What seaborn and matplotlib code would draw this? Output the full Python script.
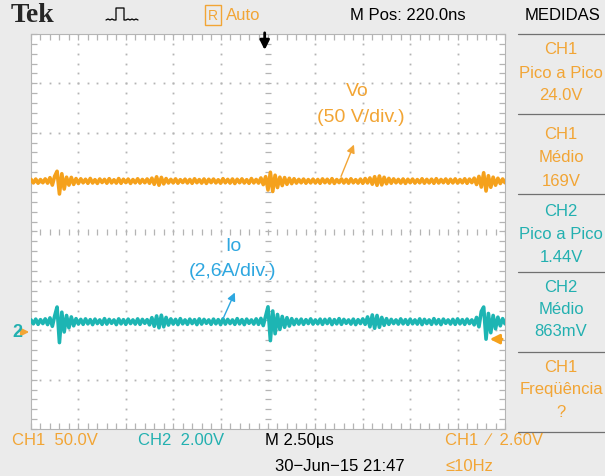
import numpy as np
import pandas as pd
import matplotlib
matplotlib.use("Agg")
import matplotlib.pyplot as plt
import seaborn as sns
from matplotlib.lines import Line2D
from matplotlib.patches import FancyArrowPatch
from matplotlib.transforms import Affine2D

sns.set_theme(style="white")
plt.rcParams['font.family'] = ['Liberation Sans', 'DejaVu Sans']

# ---- acquired samples (volts) ----
ch1_volts = [
    170.8, 167.2, 171.1, 166.9, 170.6, 167.4, 171.3, 167.0, 172.5, 165.0, 174.0, 179.0, 156.0, 176.5, 161.0, 173.0, 165.0, 172.8, 165.7, 171.6,
    166.6, 171.4, 167.3, 170.9, 166.8, 171.7, 167.1, 170.5, 166.7, 171.2, 167.6, 170.8, 166.9, 171.5, 167.2, 170.4, 167.0, 171.6, 166.8, 170.9,
    167.5, 171.1, 166.7, 170.6, 167.3, 171.4, 167.0, 170.7, 167.4, 171.2, 166.9, 172.0, 165.8, 173.4, 164.9, 172.8, 166.2, 171.6, 167.1, 170.8,
    167.2, 171.3, 166.9, 170.5, 167.6, 171.0, 167.1, 170.7, 166.8, 171.4, 167.4, 170.6, 167.0, 171.2, 166.7, 170.9, 167.5, 171.1, 167.2, 170.4,
    166.9, 171.5, 167.3, 170.8, 167.0, 171.2, 166.6, 170.9, 167.4, 171.3, 167.1, 170.5, 166.8, 171.6, 167.2, 170.7, 167.0, 172.2, 165.5, 173.5,
    160.0, 178.0, 158.5, 175.0, 162.5, 173.0, 164.5, 172.6, 165.8, 171.9, 166.5, 171.4, 167.0, 170.8, 167.3, 171.1, 166.9, 170.6, 167.2, 171.0,
    167.1, 170.7, 166.8, 171.3, 167.4, 170.9, 167.0, 171.5, 166.7, 170.6, 167.5, 171.2, 167.1, 170.8, 166.9, 171.4, 167.3, 170.5, 167.0, 171.1,
    166.8, 171.6, 167.2, 172.2, 165.9, 173.5, 164.8, 174.2, 165.2, 172.9, 166.4, 171.8, 166.9, 171.3, 167.3, 170.8, 167.0, 171.2, 166.7, 170.9,
    167.4, 171.1, 167.0, 170.6, 167.3, 171.4, 166.9, 170.8, 167.2, 171.0, 166.8, 171.5, 167.1, 170.7, 167.4, 171.2, 166.9, 170.9, 167.2, 171.3,
    167.0, 170.6, 167.3, 171.4, 166.8, 171.1, 167.5, 172.0, 165.6, 173.8, 163.0, 177.5, 159.0, 174.5, 162.8, 173.0, 164.9, 171.9, 166.6, 171.2,
    167.4,
]
ch2_volts = [
    0.94, 0.78, 0.97, 0.76, 0.95, 0.79, 0.98, 0.75, 1.02, 0.68, 1.10, 1.46, 0.02, 1.25, 0.45, 1.12, 0.62, 1.06, 0.70, 0.99,
    0.77, 0.96, 0.76, 0.98, 0.78, 0.95, 0.75, 0.97, 0.79, 0.94, 0.76, 0.99, 0.77, 0.96, 0.80, 0.94, 0.75, 0.98, 0.78, 0.95,
    0.76, 0.97, 0.79, 0.94, 0.77, 0.98, 0.76, 0.96, 0.80, 0.95, 0.74, 1.03, 0.68, 1.10, 0.62, 1.13, 0.66, 1.04, 0.73, 0.98,
    0.77, 0.96, 0.75, 0.99, 0.78, 0.94, 0.76, 0.97, 0.79, 0.95, 0.75, 0.98, 0.77, 0.96, 0.80, 0.94, 0.76, 0.97, 0.78, 0.95,
    0.75, 0.98, 0.77, 0.96, 0.79, 0.94, 0.76, 0.99, 0.78, 0.95, 0.75, 0.97, 0.80, 0.94, 0.77, 0.98, 0.76, 1.00, 0.71, 1.09,
    1.47, 0.10, 1.30, 0.38, 1.16, 0.55, 1.08, 0.64, 1.03, 0.69, 0.99, 0.75, 0.96, 0.77, 0.97, 0.76, 0.95, 0.79, 0.98, 0.77,
    0.94, 0.78, 0.97, 0.76, 0.96, 0.79, 0.98, 0.75, 0.95, 0.78, 0.99, 0.76, 0.96, 0.80, 0.94, 0.77, 0.97, 0.75, 0.95, 0.79,
    0.98, 0.76, 1.06, 0.66, 1.14, 0.60, 1.12, 0.64, 1.04, 0.72, 0.99, 0.76, 0.96, 0.79, 0.94, 0.77, 0.98, 0.78, 0.95, 0.76,
    0.97, 0.78, 0.94, 0.77, 0.98, 0.75, 0.96, 0.79, 0.94, 0.76, 0.99, 0.78, 0.95, 0.75, 0.97, 0.80, 0.94, 0.77, 0.96, 0.76,
    0.98, 0.78, 0.95, 0.76, 0.97, 0.79, 0.94, 0.74, 1.04, 0.66, 1.28, 1.46, 0.16, 1.20, 0.42, 1.12, 0.58, 1.05, 0.70, 0.99,
    0.78,
]

# measurement panel entries: (channel, name, value)
measurements = [
    ("CH1", "Pico a Pico", "24.0V"),
    ("CH1", "Médio", "169V"),
    ("CH2", "Pico a Pico", "1.44V"),
    ("CH2", "Médio", "863mV"),
    ("CH1", "Freqüência", "?"),
]

# ---- vertical / horizontal settings ----
ch1_vdiv, ch2_vdiv = 50.0, 2.0      # V/div
ch1_pos, ch2_pos = -2.36, -2.26     # divisions
t_div = 2.5                          # us/div
n = len(ch1_volts)
time_us = np.linspace(-5 * t_div, 5 * t_div, n)

df = pd.DataFrame({
    "t": time_us / t_div,
    "CH1": np.array(ch1_volts) / ch1_vdiv + ch1_pos,
    "CH2": np.array(ch2_volts) / ch2_vdiv + ch2_pos,
})

W, H = 605, 477
BG = '#ebebeb'
ORANGE = '#f5a11c'
ORANGE_TXT = '#f2a535'
CYAN = '#1db5b3'
CYAN_TXT = '#22b0b0'
BLUE = '#2ea7e0'
GRID = '#b4b4b4'
FS = 12

fig = plt.figure(figsize=(W / 100, H / 100), dpi=100, facecolor=BG)
pix = Affine2D().scale(1 / W, -1 / H).translate(0, 1) + fig.transFigure

ax = fig.add_axes([31 / W, 1 - 430 / H, 474 / W, 395 / H])
ax.set_facecolor('white')
ax.set_xlim(-5, 5)
ax.set_ylim(-4, 4)

# graticule: dotted division lines
fine_y = np.arange(-4, 4.001, 0.2)
fine_x = np.arange(-5, 5.001, 0.2)
for xv in range(-4, 5):
    if xv != 0:
        ax.plot(np.full_like(fine_y, xv), fine_y, ls='none', marker='s', ms=1.3,
                color=GRID, mew=0)
for yv in range(-3, 4):
    if yv != 0:
        ax.plot(fine_x, np.full_like(fine_x, yv), ls='none', marker='s', ms=1.3,
                color=GRID, mew=0)
# centre crosshair with minor marks
ax.plot(np.zeros_like(fine_y), fine_y, ls='none', marker='_', ms=4.5, mew=0.9, color=GRID)
ax.plot(fine_x, np.zeros_like(fine_x), ls='none', marker='|', ms=4.5, mew=0.9, color=GRID)

ax.set_xticks(fine_x)
ax.set_yticks(fine_y)
ax.set_xticklabels([])
ax.set_yticklabels([])
ax.tick_params(direction='in', length=4, width=0.9, color=GRID,
               top=True, right=True, bottom=True, left=True)
for s in ax.spines.values():
    s.set_color('#b5b5b5')
    s.set_linewidth(0.8)

# waveforms
sns.lineplot(data=df, x="t", y="CH1", ax=ax, color=ORANGE, lw=2.6,
             estimator=None, sort=False, zorder=5)
sns.lineplot(data=df, x="t", y="CH2", ax=ax, color=CYAN, lw=2.6,
             estimator=None, sort=False, zorder=5)
ax.set_xlabel("")
ax.set_ylabel("")

# trigger position marker (top) and trigger level marker (right)
ax.annotate('', xy=(-0.07, 3.62), xytext=(-0.07, 4.08),
            arrowprops=dict(arrowstyle='-|>', color='black', lw=2.0, mutation_scale=14),
            annotation_clip=False, zorder=6)
ax.annotate('', xy=(4.62, -2.18), xytext=(5.0, -2.18),
            arrowprops=dict(arrowstyle='-|>', color=ORANGE, lw=2.0, mutation_scale=14),
            annotation_clip=False, zorder=6)

# channel labels inside the screen
fig.text(357, 92, "Vo", transform=pix, color=ORANGE_TXT, fontsize=14,
         ha='center', va='center')
fig.text(361, 117, "(50 V/div.)", transform=pix, color=ORANGE_TXT, fontsize=14,
         ha='center', va='center')
fig.add_artist(FancyArrowPatch(
    (340, 180), (355, 143), transform=pix, arrowstyle='-|>', mutation_scale=12,
    color=ORANGE_TXT, lw=1.0))
fig.text(233, 247, "Io", transform=pix, color=BLUE, fontsize=14,
         ha='center', va='center')
fig.text(233, 272, "(2,6A/div.)", transform=pix, color=BLUE, fontsize=14,
         ha='center', va='center')
fig.add_artist(FancyArrowPatch(
    (222, 322), (236, 291), transform=pix, arrowstyle='-|>', mutation_scale=12,
    color=BLUE, lw=1.0))

# CH2 ground marker
fig.text(17, 333, "2", transform=pix, color=CYAN_TXT, fontsize=13,
         ha='center', va='center', weight='bold')
fig.add_artist(FancyArrowPatch(
    (22, 333), (32, 333), transform=pix, arrowstyle='-|>', mutation_scale=11,
    color=ORANGE_TXT, lw=1.4))

# ---- top status bar ----
fig.text(11, 16, "Tek", transform=pix, fontsize=20, weight='bold',
         family='Liberation Serif', va='center', ha='left')
pulse = Line2D([106, 108, 110, 112, 114, 116, 116, 124, 124, 126, 128, 130, 132, 134, 136, 138],
               [21, 20, 21, 20, 21, 21, 9, 9, 21, 21, 20, 21, 20, 21, 20, 21],
               transform=pix, color='black', lw=0.9)
fig.add_artist(pulse)
fig.text(213, 16, "R", transform=pix, fontsize=10, color=ORANGE_TXT, va='center',
         ha='center', bbox=dict(boxstyle='square,pad=0.2', fc='none', ec=ORANGE_TXT, lw=1.0))
fig.text(226, 16, "Auto", transform=pix, fontsize=FS, color=ORANGE_TXT, va='center', ha='left')
fig.text(350, 16, "M Pos: 220.0ns", transform=pix, fontsize=FS, va='center', ha='left', color='black')
fig.text(563, 16, "MEDIDAS", transform=pix, fontsize=FS, va='center', ha='center', color='black')

# ---- measurement panel ----
seps = [35, 115, 195, 273, 353, 433]
for y in seps:
    fig.add_artist(Line2D([518, 605], [y, y], transform=pix, color='#707070', lw=0.9))
rows_y = [(50, 73, 95), (135, 158, 182), (212, 235, 258), (288, 310, 332), (368, 390, 413)]
for (ch, name, val), ys in zip(measurements, rows_y):
    col = ORANGE_TXT if ch == "CH1" else CYAN_TXT
    for s, y in zip((ch, name, val), ys):
        fig.text(561, y, s, transform=pix, fontsize=FS, color=col, ha='center', va='center')

# ---- bottom status bar ----
fig.text(12, 441, "CH1  50.0V", transform=pix, fontsize=FS, color=ORANGE_TXT, va='center', ha='left')
fig.text(138, 441, "CH2  2.00V", transform=pix, fontsize=FS, color=CYAN_TXT, va='center', ha='left')
fig.text(265, 441, "M 2.50\u00b5s", transform=pix, fontsize=FS, color='black', va='center', ha='left')
fig.text(445, 441, "CH1  \u2215  2.60V", transform=pix, fontsize=FS, color=ORANGE_TXT, va='center', ha='left')
fig.text(275, 467, "30\u2212Jun\u221215 21:47", transform=pix, fontsize=FS, color='black', va='center', ha='left')
fig.text(445, 467, "\u226410Hz", transform=pix, fontsize=FS, color=ORANGE_TXT, va='center', ha='left')

fig.savefig("out.png", dpi=100, facecolor=BG)
